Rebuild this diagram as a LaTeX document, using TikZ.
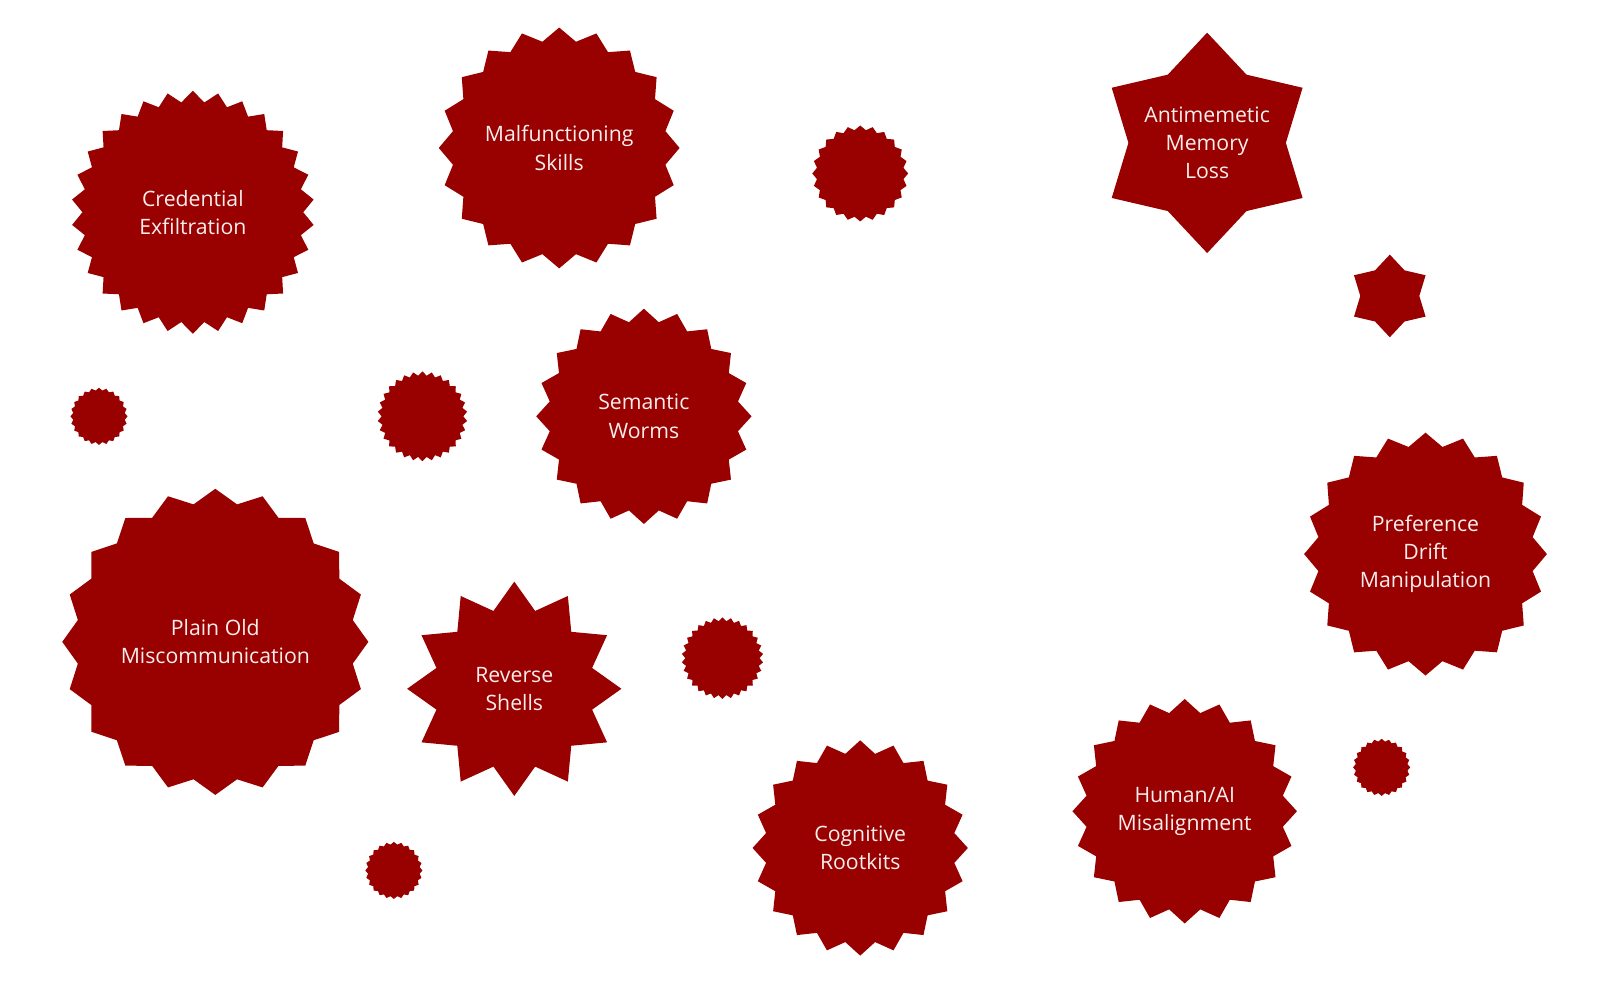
\documentclass[tikz,border=0pt]{standalone}
\usepackage{fontspec}
\setmainfont{Open Sans}
\usetikzlibrary{shapes.geometric}
\definecolor{burstred}{HTML}{990000}
\definecolor{ink}{HTML}{F8EEEE}
\tikzset{
  burst/.style={star, fill=burstred, draw=none, inner sep=0pt, outer sep=0pt, star point ratio=1.1},
  hexa/.style={star, star points=6, fill=burstred, draw=none, inner sep=0pt, outer sep=0pt, star point ratio=1.4},
  lbl/.style={text=ink, align=center, inner sep=0pt, font=\fontsize{10.4}{13.8}\selectfont},
}
\begin{document}
\begin{tikzpicture}[x=0.5pt,y=-0.5pt]
\useasboundingbox (0,0) rectangle (1568,980);
% big labelled stars
\node[burst, star points=30, minimum size=119pt] (cred) at (189,208) {};
\node[lbl] (credt) at (cred.center) {Credential\\Exfiltration};
\node[burst, star points=20, minimum size=118pt, star point ratio=1.12] (malf) at (548,145) {};
\node[lbl] (malft) at (malf.center) {Malfunctioning\\Skills};
\node[hexa, minimum size=108pt] (anti) at (1183,140) {};
\node[lbl] (antit) at (anti.center) {Antimemetic\\Memory\\Loss};
\node[burst, star points=20, minimum size=105.5pt, star point ratio=1.13] (sem) at (631,408) {};
\node[lbl] (semt) at (sem.center) {Semantic\\Worms};
\node[burst, star points=20, minimum size=150pt] (plain) at (211,629) {};
\node[lbl] (plaint) at (plain.center) {Plain Old\\Miscommunication};
\node[burst, star points=12, minimum size=105pt, star point ratio=1.33] (rev) at (504,675) {};
\node[lbl] (revt) at (rev.center) {Reverse\\Shells};
\node[burst, star points=20, minimum size=105.5pt, star point ratio=1.13] (cog) at (843,831) {};
\node[lbl] (cogt) at (cog.center) {Cognitive\\Rootkits};
\node[burst, star points=20, minimum size=110pt, star point ratio=1.13] (hum) at (1161,795) {};
\node[lbl] (humt) at (hum.center) {Human/AI\\Misalignment};
\node[burst, star points=20, minimum size=119pt, star point ratio=1.12] (pref) at (1397,543) {};
\node[lbl] (preft) at (pref.center) {Preference\\Drift\\Manipulation};
% small unlabelled stars
\node[burst, star points=24, minimum size=47pt] (sa) at (843,170) {};
\node[hexa, minimum size=40.5pt] (sb) at (1362,290) {};
\node[burst, star points=24, minimum size=28pt] (sc) at (97,408) {};
\node[burst, star points=30, minimum size=44pt] (sd) at (414,408) {};
\node[burst, star points=30, minimum size=40pt] (se) at (708,645) {};
\node[burst, star points=24, minimum size=28pt] (sf) at (386,853) {};
\node[burst, star points=24, minimum size=28pt] (sg) at (1354,752) {};
\end{tikzpicture}
\end{document}
